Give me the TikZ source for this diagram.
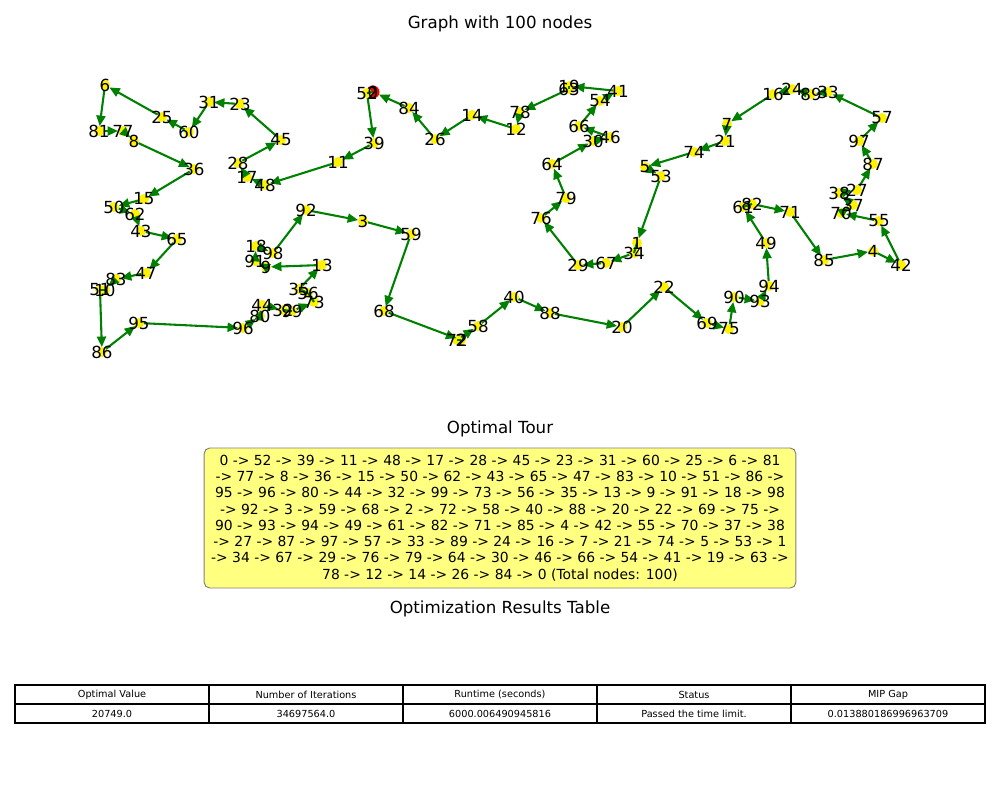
\documentclass[tikz,border=0pt]{standalone}
\usepackage{fontspec}
\setmainfont{DejaVu Sans}
\usetikzlibrary{arrows.meta}
\definecolor{edgegreen}{HTML}{008000}
\definecolor{boxyellow}{HTML}{FFFF80}
\definecolor{boxedge}{HTML}{808080}
\tikzset{
  dot/.style={circle, fill=yellow, minimum size=7.2pt, inner sep=0pt, outer sep=0pt},
  startdot/.style={circle, fill=red, minimum size=9.4pt, inner sep=0pt, outer sep=0pt},
  lbl/.style={font=\fontsize{12}{14}\selectfont, inner sep=0pt, text=black},
  tour/.style={draw=edgegreen, line width=1.5pt, -{Triangle[length=7.5pt,width=6.5pt]}},
  tourshort/.style={draw=edgegreen, line width=1.5pt},
  title/.style={font=\fontsize{12}{14}\selectfont, inner sep=0pt},
  tourbox/.style={draw=boxedge, line width=0.7pt, fill=boxyellow, rounded corners=4pt,
    minimum width=426pt, minimum height=100.8pt, inner sep=0pt, align=center,
    font=\fontsize{10}{11.7}\selectfont},
  cell/.style={draw=black, line width=0.8pt, minimum width=139.68pt, minimum height=13.68pt,
    inner sep=0pt, font=\fontsize{7}{8}\selectfont}
}
\begin{document}
\begin{tikzpicture}[x=0.72pt,y=-0.72pt]
\useasboundingbox (0,0) rectangle (1000,800);
% nodes (dots)
\node[startdot] (n0) at (373,92) {};
\foreach \n/\x/\y in {52/367/93, 39/374/143, 11/338/162, 48/265/185, 17/247/177, 28/238/163,
  45/281/140, 23/240/104, 31/209/102, 60/189/132, 25/162/117, 6/105/85, 81/99/131, 77/123/131,
  8/134/141, 36/194/169, 15/144/199, 50/114/207, 62/135/214, 43/141/231, 65/177/239, 47/146/273,
  83/116/279, 10/105/290, 51/100/290, 86/102/352, 95/139/323, 96/243/328, 80/260/316, 44/262/305,
  32/283/310, 99/292/311, 73/314/302, 56/308/293, 35/299/289, 13/322/265, 9/266/267, 91/255/261,
  18/256/246, 98/273/253, 92/306/210, 3/363/221, 59/411/234, 68/384/311, 2/461/340, 72/457/340,
  58/478/326, 40/514/297, 88/550/313, 20/622/327, 22/664/287, 69/707/323, 75/729/329, 90/734/297,
  93/760/301, 94/769/286, 49/766/243, 61/743/207, 82/752/204, 71/790/212, 85/824/260, 4/873/251,
  42/901/265, 55/879/221, 70/841/213, 37/853/205, 38/839/193, 27/857/190, 87/873/164, 97/859/141,
  57/882/118, 33/828/92, 89/811/94, 24/792/89, 16/773/94, 7/727/124, 21/725/141, 74/694/152,
  5/645/167, 53/661/176, 1/637/243, 34/634/253, 67/606/263, 29/578/265, 76/541/218, 79/566/198,
  64/552/164, 30/593/141, 46/610/137, 66/579/126, 54/600/101, 41/618/91, 19/569/86, 63/569/89,
  78/520/112, 12/516/129, 14/472/115, 26/435/139, 84/409/108}
  {\node[dot] (n\n) at (\x,\y) {};}
% tour edges
\foreach \a/\b in {52/39, 39/11, 11/48, 48/17, 17/28, 28/45, 45/23, 23/31, 31/60, 60/25,
  25/6, 6/81, 81/77, 77/8, 8/36, 36/15, 15/50, 50/62, 62/43, 43/65, 65/47, 47/83, 83/10,
  51/86, 86/95, 95/96, 96/80, 80/44, 44/32, 99/73, 35/13, 13/9, 9/91, 91/18, 18/98,
  98/92, 92/3, 3/59, 59/68, 68/2, 72/58, 58/40, 40/88, 88/20, 20/22, 22/69, 69/75, 75/90,
  90/93, 93/94, 94/49, 49/61, 82/71, 71/85, 85/4, 4/42, 42/55, 55/70, 70/37, 37/38, 38/27,
  27/87, 87/97, 97/57, 57/33, 33/89, 89/24, 24/16, 16/7, 7/21, 21/74, 74/5, 5/53, 53/1,
  34/67, 67/29, 29/76, 76/79, 79/64, 64/30, 30/46, 46/66, 66/54, 54/41, 41/19, 63/78,
  78/12, 12/14, 14/26, 26/84, 84/0}
  {\draw[tour] (n\a) -- (n\b);}
\foreach \a/\b in {0/52, 10/51, 32/99, 73/56, 56/35, 2/72, 61/82, 1/34, 19/63}
  {\draw[tourshort] (n\a.center) -- (n\b.center);}
% labels
\foreach \n in {52,39,11,48,17,28,45,23,31,60,25,6,81,77,8,36,15,50,62,43,65,47,83,10,51,86,
  95,96,80,44,32,99,73,56,35,13,9,91,18,98,92,3,59,68,2,72,58,40,88,20,22,69,75,90,93,94,49,
  61,82,71,85,4,42,55,70,37,38,27,87,97,57,33,89,24,16,7,21,74,5,53,1,34,67,29,76,79,64,30,
  46,66,54,41,19,63,78,12,14,26,84,0}
  {\node[lbl] (l\n) at (n\n) {\n};}
% titles
\node[title] (t1) at (500,24) {Graph with 100 nodes};
\node[title] (t2) at (500,429) {Optimal Tour};
\node[title] (t3) at (500,609) {Optimization Results Table};
% tour text box
\node[tourbox] (box) at (500,518) {0 -> 52 -> 39 -> 11 -> 48 -> 17 -> 28 -> 45 -> 23 -> 31 -> 60 -> 25 -> 6 -> 81\\
-> 77 -> 8 -> 36 -> 15 -> 50 -> 62 -> 43 -> 65 -> 47 -> 83 -> 10 -> 51 -> 86 ->\\
95 -> 96 -> 80 -> 44 -> 32 -> 99 -> 73 -> 56 -> 35 -> 13 -> 9 -> 91 -> 18 -> 98\\
-> 92 -> 3 -> 59 -> 68 -> 2 -> 72 -> 58 -> 40 -> 88 -> 20 -> 22 -> 69 -> 75 ->\\
90 -> 93 -> 94 -> 49 -> 61 -> 82 -> 71 -> 85 -> 4 -> 42 -> 55 -> 70 -> 37 -> 38\\
-> 27 -> 87 -> 97 -> 57 -> 33 -> 89 -> 24 -> 16 -> 7 -> 21 -> 74 -> 5 -> 53 -> 1\\
-> 34 -> 67 -> 29 -> 76 -> 79 -> 64 -> 30 -> 46 -> 66 -> 54 -> 41 -> 19 -> 63 ->\\
78 -> 12 -> 14 -> 26 -> 84 -> 0 (Total nodes: 100)};
% table
\node[cell] (h1) at (112,694.5) {Optimal Value};
\node[cell] (h2) at (306,694.5) {Number of Iterations};
\node[cell] (h3) at (500,694.5) {Runtime (seconds)};
\node[cell] (h4) at (694,694.5) {Status};
\node[cell] (h5) at (888,694.5) {MIP Gap};
\node[cell] (d1) at (112,713.5) {20749.0};
\node[cell] (d2) at (306,713.5) {34697564.0};
\node[cell] (d3) at (500,713.5) {6000.006490945816};
\node[cell] (d4) at (694,713.5) {Passed the time limit.};
\node[cell] (d5) at (888,713.5) {0.013880186996963709};
\end{tikzpicture}
\end{document}
